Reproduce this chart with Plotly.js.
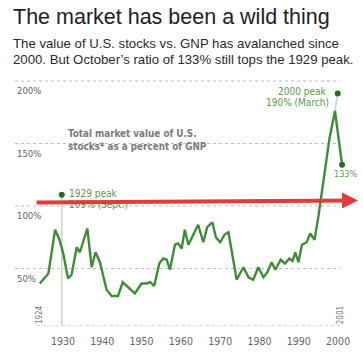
<!DOCTYPE html>
<html>
<head>
<meta charset="utf-8">
<script src="https://cdn.plot.ly/plotly-3.0.1.min.js"></script>
<style>html,body{margin:0;padding:0;background:#fff;}#chart{width:363px;height:361px;}</style>
</head>
<body>
<div id="chart"></div>
<script>
// ---- data ----
const years = [1924.1,1925.4,1926.3,1928.0,1929.0,1930.0,1931.3,1932.2,1933.5,1934.3,1936.2,1937.3,1938.3,1939.4,
  1941.1,1942.4,1944.0,1945.2,1946.6,1948.3,1950.0,1951.3,1952.2,1953.2,1954.5,1955.5,1956.4,1957.2,
  1958.5,1959.3,1960.2,1961.0,1961.9,1963.2,1964.4,1965.7,1966.7,1968.0,1968.9,1970.0,1971.1,1972.1,
  1974.2,1975.9,1977.2,1978.4,1979.7,1981.0,1982.0,1983.1,1984.0,1985.4,1986.5,1987.6,1988.4,1989.1,
  1989.9,1990.8,1992.0,1992.9,1994.0,1995.0,1996.7,1997.8,1999.2,2001.0];
const values = [38,43,46,81,74,63,42,45,67,63,82,51,63,55,
  33,28,28,39,35,30,38,38,39,36,54,58,57,49,
  69,70,66,81,69,78,85,71,83,87,75,71,77,79,
  41,51,43,41,51,43,47,55,49,57,54,58,56,63,
  55,69,71,78,73,92,130,154,176,133];

const peakYears = [1929.7, 1999.9, 2001.0];
const peakValues = [109, 190, 133];

const yTickVals = [50, 100, 150, 200];
const yTickText = ['50%', '100%', '150%', '200%'];
const xTickVals = [1930, 1940, 1950, 1960, 1970, 1980, 1990, 2000];
const xTickText = ['1930', '1940', '1950', '1960', '1970', '1980', '1990', '2000'];

const titleText = 'The market has been a wild thing';
const subtitle1 = 'The value of U.S. stocks vs. GNP has avalanched since';
const subtitle2 = '2000. But October\u2019s ratio of 133% still tops the 1929 peak.';

// ---- styling ----
const NARROW = '"Liberation Sans Narrow", "DejaVu Sans Condensed", "Arial Narrow", sans-serif';
const SANS = '"Liberation Sans", Arial, Helvetica, sans-serif';
const GREEN = '#3f8b3a';
const DGREEN = '#2c6a2a';
const TGREEN = '#5a9a4c';

const traces = [
  {x: years, y: values, type: 'scatter', mode: 'lines',
   line: {color: GREEN, width: 2.4, shape: 'linear'}, hoverinfo: 'skip'},
  {x: peakYears, y: peakValues, type: 'scatter', mode: 'markers',
   marker: {color: DGREEN, size: 6}, hoverinfo: 'skip'}
];

const shapes = [];
yTickVals.forEach(v => shapes.push({type: 'line', xref: 'paper', yref: 'y', x0: 0, x1: 0.985, y0: v, y1: v,
  line: {color: '#bdbdbd', width: 1, dash: 'dot'}, layer: 'below'}));
// baseline
shapes.push({type: 'line', xref: 'x', yref: 'y', x0: 1923.5, x1: 2001.2, y0: 4, y1: 4,
  line: {color: '#aaaaaa', width: 1, dash: 'dot'}, layer: 'below'});
// leader lines
shapes.push({type: 'line', xref: 'x', yref: 'y', x0: peakYears[0], x1: peakYears[0], y0: peakValues[0], y1: 4,
  line: {color: '#c9d3c6', width: 1.5}, layer: 'below'});
shapes.push({type: 'line', xref: 'x', yref: 'y', x0: peakYears[1], x1: 1999.2, y0: peakValues[1], y1: 176,
  line: {color: '#c9d3c6', width: 1.5}, layer: 'below'});

const annotations = [];
yTickVals.forEach((v, i) => annotations.push({xref: 'paper', yref: 'y', x: 0, y: v, xanchor: 'left', yanchor: 'top',
  yshift: -2, text: yTickText[i], showarrow: false, font: {family: NARROW, size: 9.5, color: '#666'}}));

annotations.push(
  {xref: 'paper', yref: 'paper', x: -0.012, y: 1.2304, xanchor: 'left', yanchor: 'middle', showarrow: false,
   text: titleText, font: {family: SANS, size: 21.5, color: '#222'}},
  {xref: 'paper', yref: 'paper', x: -0.012, y: 1.1252, xanchor: 'left', yanchor: 'middle', showarrow: false,
   text: subtitle1, font: {family: SANS, size: 13.2, color: '#2a2a2a'}},
  {xref: 'paper', yref: 'paper', x: -0.012, y: 1.0624, xanchor: 'left', yanchor: 'middle', showarrow: false,
   text: subtitle2, font: {family: SANS, size: 13.2, color: '#2a2a2a'}},
  {xref: 'paper', yref: 'paper', x: 0.155, y: 0.768, xanchor: 'left', yanchor: 'middle', showarrow: false,
   text: '<b>Total market value of U.S.</b>', font: {family: NARROW, size: 9.8, color: '#7a7a7a'}},
  {xref: 'paper', yref: 'paper', x: 0.155, y: 0.716, xanchor: 'left', yanchor: 'middle', showarrow: false,
   text: '<b>stocks* as a percent of GNP</b>', font: {family: NARROW, size: 9.8, color: '#7a7a7a'}},
  {xref: 'paper', yref: 'paper', x: 0.157, y: 0.528, xanchor: 'left', yanchor: 'middle', showarrow: false,
   text: '1929 peak', font: {family: NARROW, size: 10, color: TGREEN}},
  {xref: 'paper', yref: 'paper', x: 0.157, y: 0.484, xanchor: 'left', yanchor: 'middle', showarrow: false,
   text: '109% (Sept.)', font: {family: NARROW, size: 10, color: TGREEN}},
  {xref: 'paper', yref: 'paper', x: 0.951, y: 0.936, xanchor: 'right', yanchor: 'middle', showarrow: false,
   text: '2000 peak', font: {family: NARROW, size: 10, color: TGREEN}},
  {xref: 'paper', yref: 'paper', x: 0.957, y: 0.892, xanchor: 'right', yanchor: 'middle', showarrow: false,
   text: '190% (March)', font: {family: NARROW, size: 10, color: TGREEN}},
  {xref: 'paper', yref: 'paper', x: 1.0, y: 0.604, xanchor: 'center', yanchor: 'middle', showarrow: false,
   text: '133%', font: {family: NARROW, size: 9, color: TGREEN}},
  {xref: 'x', yref: 'y', x: 1924.0, y: 13, textangle: -90, showarrow: false, xanchor: 'center', yanchor: 'middle',
   text: '1924', font: {family: NARROW, size: 8, color: '#777'}},
  {xref: 'x', yref: 'y', x: 2000.6, y: 13, textangle: -90, showarrow: false, xanchor: 'center', yanchor: 'middle',
   text: '2001', font: {family: NARROW, size: 8, color: '#777'}},
  // red arrow overlay
  {xref: 'paper', yref: 'paper', x: (358 - 15) / 330, y: (326 - 201) / 250, axref: 'pixel', ayref: 'pixel',
   ax: -323, ay: 2, text: '', showarrow: true, arrowhead: 2, arrowsize: 0.8, arrowwidth: 4, arrowcolor: '#e23b3b'}
);

const layout = {
  width: 363, height: 361,
  margin: {l: 15, r: 18, t: 75, b: 35, pad: 0},
  paper_bgcolor: '#fff', plot_bgcolor: '#fff',
  showlegend: false,
  xaxis: {range: [1917.8, 2001.75], showgrid: false, zeroline: false, showline: false,
    tickmode: 'array', tickvals: xTickVals, ticktext: xTickText, ticks: '', ticklabelstandoff: 7,
    tickfont: {family: NARROW, size: 10.5, color: '#666'}, fixedrange: true},
  yaxis: {range: [4, 204.8], showgrid: false, zeroline: false, showline: false, showticklabels: false,
    ticks: '', fixedrange: true},
  shapes: shapes,
  annotations: annotations
};

Plotly.newPlot('chart', traces, layout, {staticPlot: true, displayModeBar: false});
</script>
</body>
</html>
